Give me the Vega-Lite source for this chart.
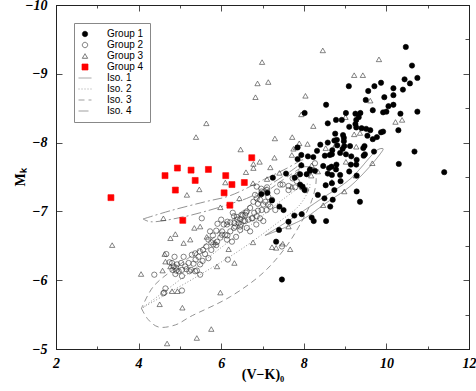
{
"$schema":"https://vega.github.io/schema/vega-lite/v6.json",
"width":413,"height":344,"autosize":"none",
"padding":{"left":56,"top":5,"right":7,"bottom":42},
"background":"white",
"config":{
 "view":{"stroke":"#222","strokeWidth":1},
 "axis":{"grid":false,"domainColor":"#222","tickColor":"#222","tickWidth":0.8,"domainWidth":1,"labelFont":"Liberation Serif","labelFontSize":14,"labelFontStyle":"italic","labelFontWeight":"bold","labelColor":"black","titleFont":"Liberation Serif","titleFontSize":14,"titleFontWeight":"bold","titleColor":"black","labelOverlap":false,"labelFlush":false},
 "legend":{"padding":6,"strokeColor":"#888","fillColor":"white","labelFont":"Liberation Sans","labelFontSize":10,"labelColor":"black","symbolStrokeWidth":0.7,"symbolSize":28,"rowPadding":1,"labelOffset":17}
},
"datasets":{
"iso":[
{"s":"Iso. 1","i":0,"x":7.06,"y":-6.65},{"s":"Iso. 1","i":1,"x":7.67,"y":-6.88},{"s":"Iso. 1","i":2,"x":8.39,"y":-7.17},{"s":"Iso. 1","i":3,"x":9.12,"y":-7.47},{"s":"Iso. 1","i":4,"x":9.80,"y":-7.90},{"s":"Iso. 1","i":5,"x":9.92,"y":-7.91},{"s":"Iso. 1","i":6,"x":9.83,"y":-7.82},{"s":"Iso. 1","i":7,"x":9.17,"y":-7.39},{"s":"Iso. 1","i":8,"x":8.51,"y":-7.11},{"s":"Iso. 1","i":9,"x":7.96,"y":-6.88},{"s":"Iso. 1","i":10,"x":7.06,"y":-6.65},
{"s":"Iso. 2","i":0,"x":4.07,"y":-5.59},{"s":"Iso. 2","i":1,"x":5.01,"y":-6.01},{"s":"Iso. 2","i":2,"x":5.86,"y":-6.41},{"s":"Iso. 2","i":3,"x":6.77,"y":-6.83},{"s":"Iso. 2","i":4,"x":7.55,"y":-7.20},{"s":"Iso. 2","i":5,"x":8.03,"y":-7.39},{"s":"Iso. 2","i":6,"x":8.15,"y":-7.39},{"s":"Iso. 2","i":7,"x":7.91,"y":-7.10},{"s":"Iso. 2","i":8,"x":7.31,"y":-6.81},{"s":"Iso. 2","i":9,"x":6.46,"y":-6.44},{"s":"Iso. 2","i":10,"x":5.49,"y":-6.08},{"s":"Iso. 2","i":11,"x":4.65,"y":-5.79},{"s":"Iso. 2","i":12,"x":4.07,"y":-5.59},
{"s":"Iso. 3","i":0,"x":4.07,"y":-5.59},{"s":"Iso. 3","i":1,"x":4.23,"y":-5.43},{"s":"Iso. 3","i":2,"x":4.48,"y":-5.32},{"s":"Iso. 3","i":3,"x":4.89,"y":-5.35},{"s":"Iso. 3","i":4,"x":5.25,"y":-5.47},{"s":"Iso. 3","i":5,"x":6.22,"y":-5.76},{"s":"Iso. 3","i":6,"x":7.02,"y":-6.11},{"s":"Iso. 3","i":7,"x":7.55,"y":-6.47},{"s":"Iso. 3","i":8,"x":7.91,"y":-6.81},{"s":"Iso. 3","i":9,"x":8.20,"y":-7.17},{"s":"Iso. 3","i":10,"x":8.30,"y":-7.46},{"s":"Iso. 3","i":11,"x":8.25,"y":-7.61},{"s":"Iso. 3","i":12,"x":8.03,"y":-7.65},{"s":"Iso. 3","i":13,"x":7.67,"y":-7.53},{"s":"Iso. 3","i":14,"x":6.94,"y":-7.21},{"s":"Iso. 3","i":15,"x":6.22,"y":-6.85},{"s":"Iso. 3","i":16,"x":5.57,"y":-6.49},{"s":"Iso. 3","i":17,"x":4.94,"y":-6.20},{"s":"Iso. 3","i":18,"x":4.36,"y":-5.91},{"s":"Iso. 3","i":19,"x":4.07,"y":-5.59},
{"s":"Iso. 4","i":0,"x":4.11,"y":-6.89},{"s":"Iso. 4","i":1,"x":4.77,"y":-7.01},{"s":"Iso. 4","i":2,"x":5.61,"y":-7.14},{"s":"Iso. 4","i":3,"x":6.22,"y":-7.23},{"s":"Iso. 4","i":4,"x":7.02,"y":-7.46},{"s":"Iso. 4","i":5,"x":7.60,"y":-7.63},{"s":"Iso. 4","i":6,"x":7.98,"y":-7.75},{"s":"Iso. 4","i":7,"x":7.91,"y":-7.69},{"s":"Iso. 4","i":8,"x":7.19,"y":-7.39},{"s":"Iso. 4","i":9,"x":6.70,"y":-7.21},{"s":"Iso. 4","i":10,"x":6.22,"y":-7.11},{"s":"Iso. 4","i":11,"x":5.73,"y":-7.02},{"s":"Iso. 4","i":12,"x":5.08,"y":-6.92},{"s":"Iso. 4","i":13,"x":4.28,"y":-6.85},{"s":"Iso. 4","i":14,"x":4.11,"y":-6.89}
],
"pts":[
{"s":"Group 3","x":6.99,"y":-9.17},{"s":"Group 3","x":6.88,"y":-8.86},{"s":"Group 3","x":7.14,"y":-8.88},{"s":"Group 3","x":6.83,"y":-8.66},{"s":"Group 3","x":8.04,"y":-8.68},{"s":"Group 3","x":7.94,"y":-8.41},{"s":"Group 3","x":5.64,"y":-8.28},{"s":"Group 3","x":5.39,"y":-8.08},{"s":"Group 3","x":7.30,"y":-8.06},{"s":"Group 3","x":7.72,"y":-8.08},{"s":"Group 3","x":8.46,"y":-9.34},{"s":"Group 3","x":9.82,"y":-9.21},{"s":"Group 3","x":9.22,"y":-8.98},{"s":"Group 3","x":9.43,"y":-8.98},{"s":"Group 3","x":9.61,"y":-8.61},{"s":"Group 3","x":8.23,"y":-8.24},{"s":"Group 3","x":9.01,"y":-8.37},{"s":"Group 3","x":9.22,"y":-8.12},{"s":"Group 3","x":10.22,"y":-8.30},{"s":"Group 3","x":10.38,"y":-8.33},{"s":"Group 3","x":7.89,"y":-7.99},{"s":"Group 3","x":8.09,"y":-7.98},{"s":"Group 3","x":8.53,"y":-7.92},{"s":"Group 3","x":8.77,"y":-7.97},{"s":"Group 3","x":9.27,"y":-7.94},{"s":"Group 3","x":6.47,"y":-7.90},{"s":"Group 3","x":7.29,"y":-7.78},{"s":"Group 3","x":7.75,"y":-7.91},{"s":"Group 3","x":7.71,"y":-7.82},{"s":"Group 3","x":7.94,"y":-7.68},{"s":"Group 3","x":8.19,"y":-7.67},{"s":"Group 3","x":9.02,"y":-7.72},{"s":"Group 3","x":9.66,"y":-7.70},{"s":"Group 3","x":6.93,"y":-7.72},{"s":"Group 3","x":6.78,"y":-7.69},{"s":"Group 3","x":6.78,"y":-7.63},{"s":"Group 3","x":6.60,"y":-7.57},{"s":"Group 3","x":7.19,"y":-7.64},{"s":"Group 3","x":7.11,"y":-7.47},{"s":"Group 3","x":7.41,"y":-7.56},{"s":"Group 3","x":7.88,"y":-7.56},{"s":"Group 3","x":8.18,"y":-7.52},{"s":"Group 3","x":6.77,"y":-7.41},{"s":"Group 3","x":7.71,"y":-7.36},{"s":"Group 3","x":8.34,"y":-7.58},{"s":"Group 3","x":7.81,"y":-7.93},{"s":"Group 3","x":6.10,"y":-7.42},{"s":"Group 3","x":5.47,"y":-7.32},{"s":"Group 3","x":5.17,"y":-7.24},{"s":"Group 3","x":6.44,"y":-7.19},{"s":"Group 3","x":5.98,"y":-7.06},{"s":"Group 3","x":4.60,"y":-6.90},{"s":"Group 3","x":5.35,"y":-6.76},{"s":"Group 3","x":5.49,"y":-6.78},{"s":"Group 3","x":4.77,"y":-6.61},{"s":"Group 3","x":4.89,"y":-6.67},{"s":"Group 3","x":5.25,"y":-6.59},{"s":"Group 3","x":5.09,"y":-6.54},{"s":"Group 3","x":6.77,"y":-6.55},{"s":"Group 3","x":7.23,"y":-6.48},{"s":"Group 3","x":7.49,"y":-6.53},{"s":"Group 3","x":4.06,"y":-6.09},{"s":"Group 3","x":4.58,"y":-6.14},{"s":"Group 3","x":4.77,"y":-6.20},{"s":"Group 3","x":4.81,"y":-5.84},{"s":"Group 3","x":4.94,"y":-5.84},{"s":"Group 3","x":4.51,"y":-5.65},{"s":"Group 3","x":5.06,"y":-5.60},{"s":"Group 3","x":5.90,"y":-6.20},{"s":"Group 3","x":5.98,"y":-5.82},{"s":"Group 3","x":7.33,"y":-6.47},{"s":"Group 3","x":7.67,"y":-6.45},{"s":"Group 3","x":7.63,"y":-6.78},{"s":"Group 3","x":5.76,"y":-5.29},{"s":"Group 3","x":5.41,"y":-5.16},{"s":"Group 3","x":4.69,"y":-5.08},{"s":"Group 3","x":5.65,"y":-6.63},{"s":"Group 3","x":5.85,"y":-6.55},{"s":"Group 3","x":6.18,"y":-6.45},{"s":"Group 3","x":4.63,"y":-6.38},{"s":"Group 3","x":4.65,"y":-6.27},{"s":"Group 3","x":6.32,"y":-6.25},{"s":"Group 3","x":8.98,"y":-7.29},{"s":"Group 3","x":8.47,"y":-7.09},{"s":"Group 3","x":9.26,"y":-7.52},{"s":"Group 3","x":8.68,"y":-7.43},{"s":"Group 3","x":9.36,"y":-8.14},{"s":"Group 3","x":3.36,"y":-6.51},
{"s":"Group 2","x":5.53,"y":-6.90},{"s":"Group 2","x":5.91,"y":-6.82},{"s":"Group 2","x":6.00,"y":-6.88},{"s":"Group 2","x":6.06,"y":-6.81},{"s":"Group 2","x":6.15,"y":-6.85},{"s":"Group 2","x":6.28,"y":-6.98},{"s":"Group 2","x":6.31,"y":-6.93},{"s":"Group 2","x":6.39,"y":-6.88},{"s":"Group 2","x":6.46,"y":-6.89},{"s":"Group 2","x":6.52,"y":-6.94},{"s":"Group 2","x":6.60,"y":-6.98},{"s":"Group 2","x":6.46,"y":-6.78},{"s":"Group 2","x":6.31,"y":-6.76},{"s":"Group 2","x":6.22,"y":-6.71},{"s":"Group 2","x":6.15,"y":-6.65},{"s":"Group 2","x":6.02,"y":-6.71},{"s":"Group 2","x":5.88,"y":-6.72},{"s":"Group 2","x":5.73,"y":-6.71},{"s":"Group 2","x":5.80,"y":-6.65},{"s":"Group 2","x":5.69,"y":-6.59},{"s":"Group 2","x":5.76,"y":-6.55},{"s":"Group 2","x":5.81,"y":-6.52},{"s":"Group 2","x":5.64,"y":-6.49},{"s":"Group 2","x":5.56,"y":-6.44},{"s":"Group 2","x":5.48,"y":-6.42},{"s":"Group 2","x":5.37,"y":-6.39},{"s":"Group 2","x":5.45,"y":-6.34},{"s":"Group 2","x":5.61,"y":-6.38},{"s":"Group 2","x":5.76,"y":-6.44},{"s":"Group 2","x":5.55,"y":-6.28},{"s":"Group 2","x":5.49,"y":-6.23},{"s":"Group 2","x":5.29,"y":-6.37},{"s":"Group 2","x":5.09,"y":-6.34},{"s":"Group 2","x":5.03,"y":-6.25},{"s":"Group 2","x":4.93,"y":-6.23},{"s":"Group 2","x":4.85,"y":-6.20},{"s":"Group 2","x":4.81,"y":-6.25},{"s":"Group 2","x":4.91,"y":-6.14},{"s":"Group 2","x":5.05,"y":-6.15},{"s":"Group 2","x":5.16,"y":-6.16},{"s":"Group 2","x":5.23,"y":-6.13},{"s":"Group 2","x":5.37,"y":-6.13},{"s":"Group 2","x":5.05,"y":-6.06},{"s":"Group 2","x":4.89,"y":-6.09},{"s":"Group 2","x":4.38,"y":-6.08},{"s":"Group 2","x":4.65,"y":-5.88},{"s":"Group 2","x":4.62,"y":-5.82},{"s":"Group 2","x":5.05,"y":-5.85},{"s":"Group 2","x":6.16,"y":-6.30},{"s":"Group 2","x":5.33,"y":-6.24},{"s":"Group 2","x":6.86,"y":-7.36},{"s":"Group 2","x":6.97,"y":-7.33},{"s":"Group 2","x":7.09,"y":-7.27},{"s":"Group 2","x":7.11,"y":-7.35},{"s":"Group 2","x":6.82,"y":-7.24},{"s":"Group 2","x":6.86,"y":-7.19},{"s":"Group 2","x":6.94,"y":-7.17},{"s":"Group 2","x":6.78,"y":-7.14},{"s":"Group 2","x":6.89,"y":-7.11},{"s":"Group 2","x":7.02,"y":-7.10},{"s":"Group 2","x":7.14,"y":-7.10},{"s":"Group 2","x":7.10,"y":-7.02},{"s":"Group 2","x":6.98,"y":-7.02},{"s":"Group 2","x":6.89,"y":-7.01},{"s":"Group 2","x":6.80,"y":-6.98},{"s":"Group 2","x":6.70,"y":-7.05},{"s":"Group 2","x":6.62,"y":-7.00},{"s":"Group 2","x":6.58,"y":-6.95},{"s":"Group 2","x":6.49,"y":-6.95},{"s":"Group 2","x":6.38,"y":-6.92},{"s":"Group 2","x":6.22,"y":-6.84},{"s":"Group 2","x":6.14,"y":-6.81},{"s":"Group 2","x":6.32,"y":-6.83},{"s":"Group 2","x":6.42,"y":-6.83},{"s":"Group 2","x":6.54,"y":-6.86},{"s":"Group 2","x":6.66,"y":-6.88},{"s":"Group 2","x":6.74,"y":-6.90},{"s":"Group 2","x":6.86,"y":-6.93},{"s":"Group 2","x":6.94,"y":-6.90},{"s":"Group 2","x":7.02,"y":-6.86},{"s":"Group 2","x":6.85,"y":-6.81},{"s":"Group 2","x":6.62,"y":-6.76},{"s":"Group 2","x":6.46,"y":-6.73},{"s":"Group 2","x":6.02,"y":-6.66},{"s":"Group 2","x":5.90,"y":-6.56},{"s":"Group 2","x":6.14,"y":-6.59},{"s":"Group 2","x":6.26,"y":-6.56},{"s":"Group 2","x":6.36,"y":-6.63},{"s":"Group 2","x":6.70,"y":-6.71},{"s":"Group 2","x":4.67,"y":-6.38},{"s":"Group 2","x":4.87,"y":-6.34},{"s":"Group 2","x":4.75,"y":-6.26},{"s":"Group 2","x":4.91,"y":-6.18},{"s":"Group 2","x":4.82,"y":-6.15},{"s":"Group 2","x":4.97,"y":-6.13},{"s":"Group 2","x":5.13,"y":-6.20},{"s":"Group 2","x":5.21,"y":-6.25},{"s":"Group 2","x":5.27,"y":-6.15},{"s":"Group 2","x":5.41,"y":-6.14},{"s":"Group 2","x":5.49,"y":-6.08},{"s":"Group 2","x":5.38,"y":-6.30},{"s":"Group 2","x":5.69,"y":-6.32},{"s":"Group 2","x":5.88,"y":-6.51},{"s":"Group 2","x":5.98,"y":-6.62},{"s":"Group 2","x":6.10,"y":-6.66},{"s":"Group 2","x":6.34,"y":-6.78},{"s":"Group 2","x":6.48,"y":-6.81},{"s":"Group 2","x":6.58,"y":-6.86},{"s":"Group 2","x":4.60,"y":-5.81},{"s":"Group 2","x":7.47,"y":-6.49},{"s":"Group 2","x":8.27,"y":-7.70},{"s":"Group 2","x":7.85,"y":-7.53},{"s":"Group 2","x":7.73,"y":-7.48},{"s":"Group 2","x":7.83,"y":-7.44},{"s":"Group 2","x":7.79,"y":-7.35},{"s":"Group 2","x":7.95,"y":-7.35},{"s":"Group 2","x":8.05,"y":-7.31},{"s":"Group 2","x":7.63,"y":-7.37},{"s":"Group 2","x":7.43,"y":-7.39},{"s":"Group 2","x":7.35,"y":-7.29},{"s":"Group 2","x":7.11,"y":-7.31},{"s":"Group 2","x":6.98,"y":-7.29},{"s":"Group 2","x":7.14,"y":-7.21},{"s":"Group 2","x":7.23,"y":-7.17},{"s":"Group 2","x":7.07,"y":-7.14},{"s":"Group 2","x":7.19,"y":-7.07},{"s":"Group 2","x":7.31,"y":-7.02},{"s":"Group 2","x":7.49,"y":-7.39},{"s":"Group 2","x":7.63,"y":-7.31},{"s":"Group 2","x":6.76,"y":-6.90},
{"s":"Group 1","x":10.47,"y":-9.39},{"s":"Group 1","x":10.62,"y":-9.12},{"s":"Group 1","x":10.44,"y":-8.92},{"s":"Group 1","x":10.57,"y":-8.86},{"s":"Group 1","x":10.75,"y":-8.94},{"s":"Group 1","x":9.09,"y":-8.82},{"s":"Group 1","x":9.87,"y":-8.87},{"s":"Group 1","x":9.71,"y":-8.82},{"s":"Group 1","x":9.56,"y":-8.75},{"s":"Group 1","x":10.17,"y":-8.79},{"s":"Group 1","x":10.40,"y":-8.77},{"s":"Group 1","x":10.17,"y":-8.69},{"s":"Group 1","x":9.95,"y":-8.66},{"s":"Group 1","x":9.50,"y":-8.62},{"s":"Group 1","x":8.54,"y":-8.55},{"s":"Group 1","x":10.17,"y":-8.55},{"s":"Group 1","x":10.05,"y":-8.53},{"s":"Group 1","x":9.67,"y":-8.47},{"s":"Group 1","x":10.00,"y":-8.45},{"s":"Group 1","x":9.92,"y":-8.44},{"s":"Group 1","x":10.34,"y":-8.42},{"s":"Group 1","x":10.75,"y":-8.45},{"s":"Group 1","x":8.02,"y":-8.43},{"s":"Group 1","x":9.02,"y":-8.43},{"s":"Group 1","x":9.25,"y":-8.42},{"s":"Group 1","x":9.37,"y":-8.43},{"s":"Group 1","x":9.33,"y":-8.37},{"s":"Group 1","x":8.78,"y":-8.33},{"s":"Group 1","x":8.92,"y":-8.33},{"s":"Group 1","x":9.27,"y":-8.33},{"s":"Group 1","x":8.58,"y":-8.28},{"s":"Group 1","x":9.25,"y":-8.27},{"s":"Group 1","x":9.10,"y":-8.23},{"s":"Group 1","x":9.27,"y":-8.22},{"s":"Group 1","x":10.29,"y":-8.18},{"s":"Group 1","x":9.40,"y":-8.21},{"s":"Group 1","x":9.51,"y":-8.20},{"s":"Group 1","x":9.61,"y":-8.18},{"s":"Group 1","x":9.87,"y":-8.15},{"s":"Group 1","x":9.92,"y":-8.16},{"s":"Group 1","x":8.76,"y":-8.13},{"s":"Group 1","x":8.95,"y":-8.11},{"s":"Group 1","x":8.97,"y":-8.07},{"s":"Group 1","x":9.54,"y":-8.10},{"s":"Group 1","x":9.77,"y":-8.08},{"s":"Group 1","x":9.67,"y":-8.05},{"s":"Group 1","x":8.97,"y":-8.02},{"s":"Group 1","x":8.80,"y":-8.04},{"s":"Group 1","x":8.74,"y":-8.03},{"s":"Group 1","x":8.58,"y":-8.00},{"s":"Group 1","x":8.40,"y":-7.97},{"s":"Group 1","x":7.85,"y":-7.93},{"s":"Group 1","x":8.81,"y":-7.96},{"s":"Group 1","x":8.98,"y":-7.95},{"s":"Group 1","x":9.12,"y":-7.95},{"s":"Group 1","x":9.47,"y":-7.95},{"s":"Group 1","x":9.44,"y":-7.92},{"s":"Group 1","x":9.70,"y":-7.87},{"s":"Group 1","x":10.68,"y":-7.87},{"s":"Group 1","x":8.32,"y":-7.88},{"s":"Group 1","x":9.02,"y":-7.83},{"s":"Group 1","x":9.45,"y":-7.81},{"s":"Group 1","x":7.85,"y":-7.76},{"s":"Group 1","x":7.94,"y":-7.82},{"s":"Group 1","x":8.10,"y":-7.80},{"s":"Group 1","x":8.23,"y":-7.79},{"s":"Group 1","x":8.51,"y":-7.81},{"s":"Group 1","x":8.63,"y":-7.82},{"s":"Group 1","x":8.68,"y":-7.83},{"s":"Group 1","x":9.15,"y":-7.80},{"s":"Group 1","x":9.28,"y":-7.75},{"s":"Group 1","x":9.27,"y":-7.68},{"s":"Group 1","x":10.30,"y":-7.69},{"s":"Group 1","x":7.94,"y":-7.67},{"s":"Group 1","x":8.47,"y":-7.66},{"s":"Group 1","x":8.67,"y":-7.65},{"s":"Group 1","x":8.15,"y":-7.59},{"s":"Group 1","x":8.27,"y":-7.59},{"s":"Group 1","x":8.58,"y":-7.55},{"s":"Group 1","x":7.25,"y":-7.49},{"s":"Group 1","x":7.57,"y":-7.55},{"s":"Group 1","x":7.78,"y":-7.49},{"s":"Group 1","x":8.88,"y":-7.53},{"s":"Group 1","x":11.40,"y":-7.57},{"s":"Group 1","x":7.91,"y":-7.39},{"s":"Group 1","x":8.53,"y":-7.38},{"s":"Group 1","x":8.68,"y":-7.41},{"s":"Group 1","x":8.74,"y":-7.31},{"s":"Group 1","x":8.79,"y":-7.68},{"s":"Group 1","x":9.10,"y":-7.58},{"s":"Group 1","x":9.28,"y":-7.52},{"s":"Group 1","x":8.15,"y":-7.61},{"s":"Group 1","x":7.91,"y":-7.54},{"s":"Group 1","x":8.07,"y":-7.54},{"s":"Group 1","x":8.02,"y":-7.31},{"s":"Group 1","x":8.34,"y":-7.24},{"s":"Group 1","x":8.70,"y":-7.17},{"s":"Group 1","x":9.28,"y":-7.29},{"s":"Group 1","x":9.36,"y":-7.14},{"s":"Group 1","x":8.64,"y":-7.07},{"s":"Group 1","x":7.41,"y":-7.07},{"s":"Group 1","x":7.51,"y":-7.02},{"s":"Group 1","x":7.77,"y":-6.94},{"s":"Group 1","x":7.95,"y":-6.96},{"s":"Group 1","x":8.19,"y":-6.91},{"s":"Group 1","x":6.97,"y":-7.25},{"s":"Group 1","x":7.12,"y":-7.27},{"s":"Group 1","x":7.23,"y":-7.16},{"s":"Group 1","x":7.63,"y":-6.85},{"s":"Group 1","x":7.40,"y":-6.73},{"s":"Group 1","x":7.33,"y":-6.56},{"s":"Group 1","x":8.89,"y":-7.44},{"s":"Group 1","x":8.50,"y":-7.19},{"s":"Group 1","x":8.24,"y":-6.86},{"s":"Group 1","x":8.54,"y":-6.86},{"s":"Group 1","x":7.47,"y":-6.01},{"s":"Group 1","x":8.94,"y":-7.91},{"s":"Group 1","x":8.88,"y":-7.85},{"s":"Group 1","x":8.78,"y":-7.61},{"s":"Group 1","x":9.14,"y":-7.68},{"s":"Group 1","x":8.68,"y":-7.53},{"s":"Group 1","x":8.69,"y":-7.89},{"s":"Group 1","x":9.48,"y":-7.83},{"s":"Group 1","x":7.97,"y":-7.36},{"s":"Group 1","x":8.61,"y":-7.63},
{"s":"Group 4","x":3.33,"y":-7.20},{"s":"Group 4","x":4.64,"y":-7.52},{"s":"Group 4","x":4.94,"y":-7.63},{"s":"Group 4","x":5.27,"y":-7.60},{"s":"Group 4","x":5.69,"y":-7.61},{"s":"Group 4","x":5.37,"y":-7.45},{"s":"Group 4","x":4.89,"y":-7.31},{"s":"Group 4","x":6.11,"y":-7.52},{"s":"Group 4","x":6.26,"y":-7.39},{"s":"Group 4","x":6.56,"y":-7.42},{"s":"Group 4","x":6.74,"y":-7.78},{"s":"Group 4","x":6.07,"y":-7.27},{"s":"Group 4","x":6.21,"y":-7.09},{"s":"Group 4","x":5.07,"y":-6.87}
]},
"layer":[
{"data":{"name":"iso"},
 "mark":{"type":"line","strokeWidth":0.8,"interpolate":"catmull-rom"},
 "encoding":{
  "x":{"field":"x","type":"quantitative","scale":{"domain":[2,12],"nice":false,"zero":false},
   "axis":{"orient":"bottom","values":[2,3,4,5,6,7,8,9,10,11,12],"labelExpr":"datum.value % 2 === 0 ? datum.label : ''","tickSize":{"condition":{"test":"datum.value % 2 === 0","value":-6},"value":-3},"labelPadding":13,"title":"(V−K)₀","titleX":206.5,"titleY":29,"titleBaseline":"alphabetic","titleAnchor":"middle"}},
  "y":{"field":"y","type":"quantitative","scale":{"domain":[-10,-5],"reverse":true,"nice":false,"zero":false},
   "axis":{"orient":"left","values":[-10,-9.5,-9,-8.5,-8,-7.5,-7,-6.5,-6,-5.5,-5],"format":"d","labelExpr":"datum.value % 1 === 0 ? datum.label : ''","tickSize":{"condition":{"test":"datum.value % 1 === 0","value":-6},"value":-4},"labelPadding":15,"title":"Mₖ","titleX":-32,"titleY":172,"titleBaseline":"alphabetic","titleAngle":270,"titleAnchor":"middle"}},
  "order":{"field":"i","type":"quantitative"},
  "stroke":{"field":"s","type":"nominal","scale":{"domain":["Group 1","Group 2","Group 3","Group 4","Iso. 1","Iso. 2","Iso. 3","Iso. 4"],"range":["black","#333","#333","red","#777","#777","#777","#777"]},"legend":{"orient":"none","legendX":18,"legendY":18,"title":null}},
  "strokeDash":{"field":"s","type":"nominal","scale":{"domain":["Group 1","Group 2","Group 3","Group 4","Iso. 1","Iso. 2","Iso. 3","Iso. 4"],"range":[[1,0],[1,0],[1,0],[1,0],[1,0],[1,2],[6,4],[10,3,2,3]]},"legend":{"orient":"none","legendX":18,"legendY":18,"title":null}}
 }},
{"data":{"name":"pts"},
 "mark":{"type":"point","size":28,"strokeWidth":0.6,"opacity":1},
 "encoding":{
  "x":{"field":"x","type":"quantitative","axis":{"orient":"top","values":[2,3,4,5,6,7,8,9,10,11,12],"labels":false,"title":null,"tickSize":{"condition":{"test":"datum.value % 2 === 0","value":-6},"value":-3}}},
  "y":{"field":"y","type":"quantitative","axis":{"orient":"right","values":[-10,-9.5,-9,-8.5,-8,-7.5,-7,-6.5,-6,-5.5,-5],"labels":false,"title":null,"tickSize":{"condition":{"test":"datum.value % 1 === 0","value":-6},"value":-4}}},
  "shape":{"field":"s","type":"nominal","scale":{"domain":["Group 1","Group 2","Group 3","Group 4","Iso. 1","Iso. 2","Iso. 3","Iso. 4"],"range":["circle","circle","triangle-up","M-1.13,-1.13H1.13V1.13H-1.13Z","M-2.45,0H2.45","M-2.45,0H2.45","M-2.45,0H2.45","M-2.45,0H2.45"]},"legend":{"orient":"none","legendX":18,"legendY":18,"title":null}},
  "fill":{"field":"s","type":"nominal","scale":{"domain":["Group 1","Group 2","Group 3","Group 4","Iso. 1","Iso. 2","Iso. 3","Iso. 4"],"range":["black","transparent","transparent","red","transparent","transparent","transparent","transparent"]},"legend":{"orient":"none","legendX":18,"legendY":18,"title":null}},
  "stroke":{"field":"s","type":"nominal","legend":{"orient":"none","legendX":18,"legendY":18,"title":null}}
 }}
],
"resolve":{"axis":{"x":"independent","y":"independent"}}
}
